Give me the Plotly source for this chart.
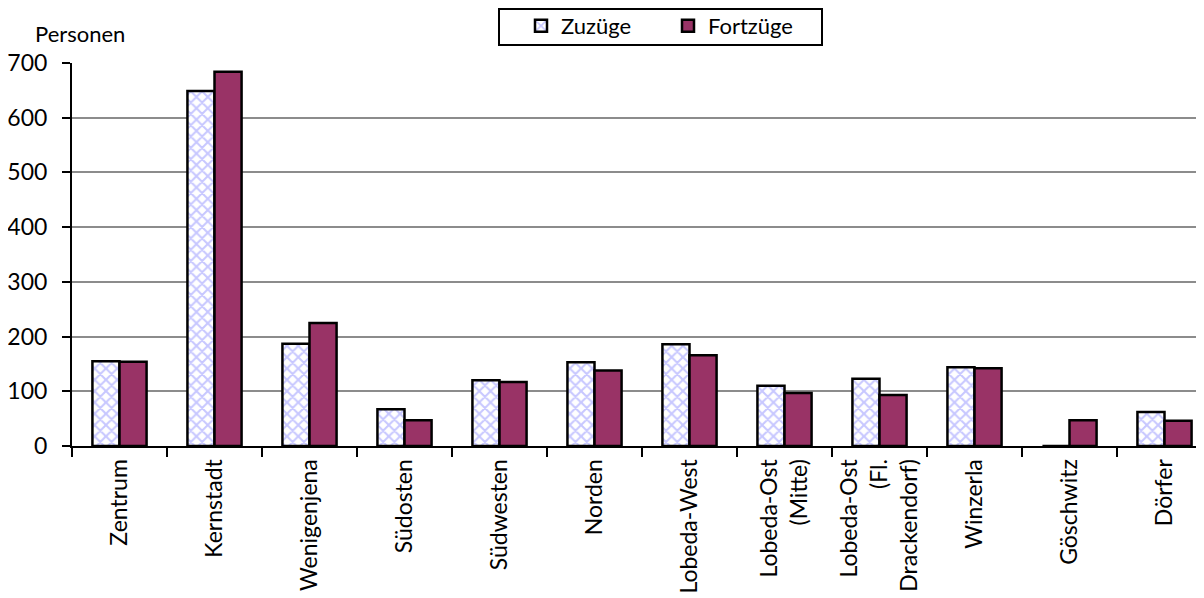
import plotly.graph_objects as go

categories = ["Zentrum", "Kernstadt", "Wenigenjena", "Südosten", "Südwesten", "Norden",
              "Lobeda-West", "Lobeda-Ost (Mitte)", "Lobeda-Ost (Fl. Drackendorf)",
              "Winzerla", "Göschwitz", "Dörfer"]
tick_labels = ["Zentrum", "Kernstadt", "Wenigenjena", "Südosten", "Südwesten", "Norden",
               "Lobeda-West", "Lobeda-Ost<br>(Mitte)", "Lobeda-Ost<br>(Fl.<br>Drackendorf)",
               "Winzerla", "Göschwitz", "Dörfer"]
zuzuege = [155, 649, 187, 67, 120, 153, 186, 110, 123, 144, 0, 62]
fortzuege = [154, 684, 225, 47, 117, 138, 166, 97, 93, 142, 47, 46]
y_ticks = [0, 100, 200, 300, 400, 500, 600, 700]

FONT = "Lato"
OFF = 8  # page body offset

fig = go.Figure()
fig.add_trace(go.Bar(
    x=categories, y=zuzuege, name="Zuzüge",
    marker=dict(color="white", line=dict(color="black", width=2.5),
                pattern=dict(shape="x", fgcolor="#8f8fff", bgcolor="white", size=8, solidity=0.45)),
))
fig.add_trace(go.Bar(
    x=categories, y=fortzuege, name="Fortzüge",
    marker=dict(color="#993366", line=dict(color="black", width=2.5)),
))

W, H = 1204 - OFF, 598 - OFF
ml, mt = 72 - OFF, 63 - OFF
mb = H - (446 - OFF)
ph = H - mt - mb
pw = W - ml


def px_x(x):
    return (x - 72) / pw


def px_y(y):
    return 1 + (63 - y) / ph


fig.update_layout(
    width=W, height=H,
    margin=dict(l=ml, r=0, t=mt, b=mb, pad=0, autoexpand=False),
    paper_bgcolor="white", plot_bgcolor="white",
    barmode="group", bargap=0.43, bargroupgap=0,
    font=dict(family=FONT, size=22, color="black"),
    showlegend=True,
    legend=dict(orientation="h", x=px_x(521), y=px_y(26),
                xanchor="left", yanchor="middle", borderwidth=0,
                bgcolor="rgba(0,0,0,0)", font=dict(size=22), traceorder="normal",
                entrywidth=102),
    shapes=[dict(type="rect", xref="paper", yref="paper",
                 x0=px_x(499), x1=px_x(822), y0=px_y(45), y1=px_y(9),
                 line=dict(color="black", width=2), fillcolor="rgba(0,0,0,0)", layer="above")],
    xaxis=dict(range=[-0.5, 11.5 - 8 / 95], showline=True, linecolor="black", linewidth=2,
               tickmode="array", tickvals=categories, ticktext=tick_labels,
               ticks="outside", tickson="boundaries", ticklen=9, tickwidth=2, tickcolor="black",
               tickangle=-90, tickfont=dict(size=23), showgrid=False, fixedrange=True,
               automargin=False, ticklabelstandoff=2),
    yaxis=dict(range=[0, 700], tickvals=y_ticks, showline=True, linecolor="black", linewidth=2,
               ticks="outside", ticklen=8, tickwidth=2, tickcolor="black",
               showgrid=True, gridcolor="#8c8c8c", gridwidth=1.5, zeroline=False,
               tickfont=dict(size=23), ticklabelstandoff=10, automargin=False),
    annotations=[dict(text="Personen", xref="paper", yref="paper",
                      x=px_x(33), y=px_y(33),
                      xanchor="left", yanchor="middle", showarrow=False,
                      font=dict(size=22))],
)

fig.write_html("out.html")
